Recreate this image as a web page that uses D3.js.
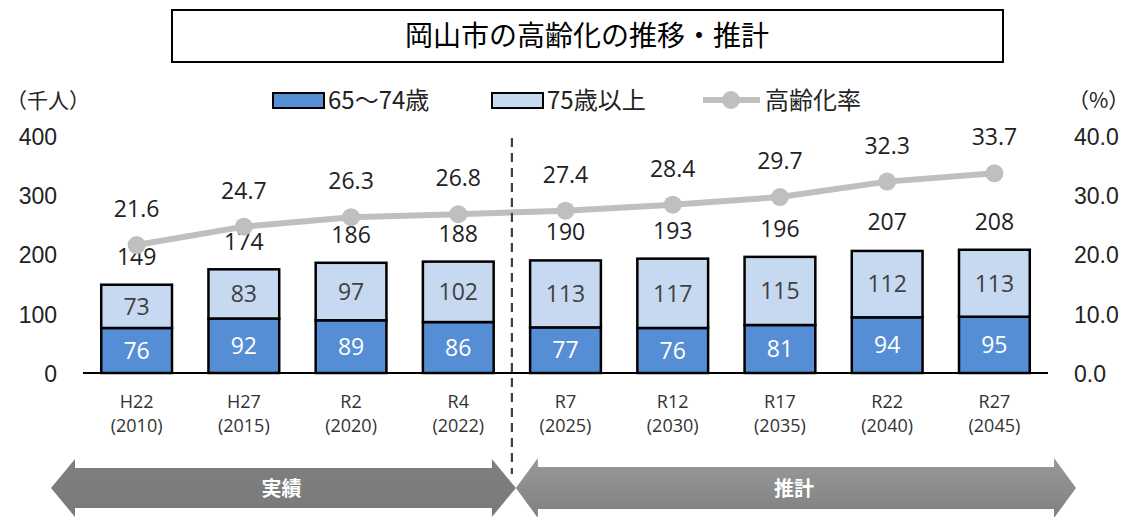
<!DOCTYPE html>
<html>
<head>
<meta charset="utf-8">
<script src="https://cdn.jsdelivr.net/npm/d3@7"></script>
<style>
  body { margin: 0; background: #fff; }
  svg { display: block; font-family: "Open Sans", "Noto Sans CJK JP", sans-serif; }
</style>
</head>
<body>
<script>
// データ
var years = ["H22", "H27", "R2", "R4", "R7", "R12", "R17", "R22", "R27"];
var seireki = ["(2010)", "(2015)", "(2020)", "(2022)", "(2025)", "(2030)", "(2035)", "(2040)", "(2045)"];
var age65to74 = [76, 92, 89, 86, 77, 76, 81, 94, 95];
var age75plus = [73, 83, 97, 102, 113, 117, 115, 112, 113];
var totals = [149, 174, 186, 188, 190, 193, 196, 207, 208];
var rate = [21.6, 24.7, 26.3, 26.8, 27.4, 28.4, 29.7, 32.3, 33.7];
var leftTicks = [0, 100, 200, 300, 400];
var rightTicks = [0, 10, 20, 30, 40];

var W = 1132, H = 517;
var dark = "#558ed5", light = "#c6d9f1", lineCol = "#bfbfbf";

var svg = d3.select("body").append("svg")
	.attr("width", W)
	.attr("height", H);

var x = d3.scaleBand()
	.domain(years)
	.range([83, 1048])
	.paddingInner(0.34)
	.paddingOuter(0.17);

var y = d3.scaleLinear().domain([0, 400]).range([373, 136]);
var y2 = d3.scaleLinear().domain([0, 40]).range([373, 136]);

// タイトル
svg.append("rect")
	.attr("x", 172).attr("y", 10).attr("width", 831).attr("height", 52)
	.attr("fill", "#fff").attr("stroke", "#000").attr("stroke-width", 2);
svg.append("text")
	.attr("x", 587).attr("y", 46)
	.attr("text-anchor", "middle")
	.style("font-family", "'Noto Sans CJK JP'")
	.style("font-size", "28px")
	.attr("textLength", 364)
	.text("岡山市の高齢化の推移・推計");

// 単位
svg.append("text").attr("x", 6).attr("y", 108)
	.style("font-family", "'Noto Sans CJK JP'").style("font-size", "21px").attr("fill", "#222")
	.text("（千人）");
svg.append("text").attr("x", 1068).attr("y", 108)
	.style("font-family", "'Noto Sans CJK JP'").style("font-size", "21px").attr("fill", "#222")
	.text("（%）");

// 左軸
svg.append("g")
	.attr("transform", "translate(57,0)")
	.call(d3.axisLeft(y).tickValues(leftTicks).tickSize(0).tickPadding(0))
	.call(function(g) { g.select(".domain").remove(); })
	.selectAll("text")
	.style("font-size", "23px").attr("fill", "#222").attr("dy", "0.36em");

// 右軸
svg.append("g")
	.attr("transform", "translate(1074,0)")
	.call(d3.axisRight(y2).tickValues(rightTicks).tickSize(0).tickPadding(0)
		.tickFormat(d3.format(".1f")))
	.call(function(g) { g.select(".domain").remove(); })
	.selectAll("text")
	.style("font-size", "23px").attr("fill", "#222").attr("dy", "0.36em");

// 棒グラフ
var bars = svg.append("g");
bars.selectAll(".b1").data(years).enter().append("rect")
	.attr("x", function(d) { return x(d); })
	.attr("y", function(d, i) { return y(age65to74[i]); })
	.attr("width", x.bandwidth())
	.attr("height", function(d, i) { return y(0) - y(age65to74[i]); })
	.attr("fill", dark).attr("stroke", "#000").attr("stroke-width", 2.5);
bars.selectAll(".b2").data(years).enter().append("rect")
	.attr("x", function(d) { return x(d); })
	.attr("y", function(d, i) { return y(age65to74[i] + age75plus[i]); })
	.attr("width", x.bandwidth())
	.attr("height", function(d, i) { return y(age65to74[i]) - y(age65to74[i] + age75plus[i]); })
	.attr("fill", light).attr("stroke", "#000").attr("stroke-width", 2.5);

// 軸線
svg.append("line")
	.attr("x1", 83).attr("x2", 1048).attr("y1", y(0)).attr("y2", y(0))
	.attr("stroke", "#000").attr("stroke-width", 2);

// 棒のラベル
var cx = function(d) { return x(d) + x.bandwidth() / 2; };
bars.selectAll(".l1").data(years).enter().append("text")
	.attr("x", cx)
	.attr("y", function(d, i) { return (y(0) + y(age65to74[i])) / 2; })
	.attr("dy", "0.36em").attr("text-anchor", "middle")
	.style("font-size", "23px").attr("fill", "#fff")
	.text(function(d, i) { return age65to74[i]; });
bars.selectAll(".l2").data(years).enter().append("text")
	.attr("x", cx)
	.attr("y", function(d, i) { return (y(age65to74[i]) + y(age65to74[i] + age75plus[i])) / 2; })
	.attr("dy", "0.36em").attr("text-anchor", "middle")
	.style("font-size", "23px").attr("fill", "#404040")
	.text(function(d, i) { return age75plus[i]; });
bars.selectAll(".lt").data(years).enter().append("text")
	.attr("x", cx)
	.attr("y", function(d, i) { return y(totals[i]) - 20; })
	.attr("text-anchor", "middle")
	.style("font-size", "23px").attr("fill", "#222")
	.text(function(d, i) { return totals[i]; });

// 高齢化率
var line = d3.line()
	.x(function(d, i) { return cx(years[i]); })
	.y(function(d) { return y2(d); });
svg.append("path").datum(rate)
	.attr("d", line).attr("fill", "none")
	.attr("stroke", lineCol).attr("stroke-width", 6);
svg.selectAll(".dot").data(rate).enter().append("circle")
	.attr("cx", function(d, i) { return cx(years[i]); })
	.attr("cy", function(d) { return y2(d); })
	.attr("r", 9).attr("fill", lineCol);
svg.selectAll(".rl").data(rate).enter().append("text")
	.attr("x", function(d, i) { return cx(years[i]); })
	.attr("y", function(d) { return y2(d) - 28; })
	.attr("text-anchor", "middle")
	.style("font-size", "23px").attr("fill", "#222")
	.text(function(d) { return d.toFixed(1); });

// X軸ラベル
var xl = svg.append("g");
xl.selectAll(".x1").data(years).enter().append("text")
	.attr("x", cx).attr("y", 408).attr("text-anchor", "middle")
	.style("font-size", "18px").attr("fill", "#333")
	.text(function(d) { return d; });
xl.selectAll(".x2").data(years).enter().append("text")
	.attr("x", cx).attr("y", 432).attr("text-anchor", "middle")
	.style("font-size", "18px").attr("fill", "#333")
	.text(function(d, i) { return seireki[i]; });

// 区切り線
var sep = x(years[4]) - x.step() * x.paddingInner() / 2;
svg.append("line")
	.attr("x1", sep).attr("x2", sep).attr("y1", 138).attr("y2", 474)
	.attr("stroke", "#404040").attr("stroke-width", 2.2)
	.attr("stroke-dasharray", "9,6");

// 矢印
var defs = svg.append("defs");
var g1 = defs.append("linearGradient").attr("id", "g1").attr("x1", 0).attr("y1", 0).attr("x2", 0).attr("y2", 1);
g1.append("stop").attr("offset", "0").attr("stop-color", "#7f7f7f");
g1.append("stop").attr("offset", "1").attr("stop-color", "#7a7a7a");
var g2 = defs.append("linearGradient").attr("id", "g2").attr("x1", 0).attr("y1", 0).attr("x2", 0).attr("y2", 1);
g2.append("stop").attr("offset", "0").attr("stop-color", "#999999");
g2.append("stop").attr("offset", "1").attr("stop-color", "#808080");

function arrow(x0, x1, cy, head, hh, sh) {
	return "M" + x0 + "," + cy +
		"L" + (x0 + head) + "," + (cy - hh) +
		"L" + (x0 + head) + "," + (cy - sh) +
		"L" + (x1 - head) + "," + (cy - sh) +
		"L" + (x1 - head) + "," + (cy - hh) +
		"L" + x1 + "," + cy +
		"L" + (x1 - head) + "," + (cy + hh) +
		"L" + (x1 - head) + "," + (cy + sh) +
		"L" + (x0 + head) + "," + (cy + sh) +
		"L" + (x0 + head) + "," + (cy + hh) + "Z";
}
svg.append("path").attr("d", arrow(51, sep + 4, 488, 24, 29, 20)).attr("fill", "url(#g1)");
svg.append("path").attr("d", arrow(sep + 4, 1076, 488, 22, 30, 21)).attr("fill", "url(#g2)");
svg.append("text").attr("x", (51 + sep) / 2).attr("y", 496).attr("text-anchor", "middle")
	.style("font-family", "'Noto Sans CJK JP'").style("font-size", "20px").style("font-weight", "bold")
	.attr("fill", "#fff").text("実績");
svg.append("text").attr("x", (sep + 1076) / 2).attr("y", 496).attr("text-anchor", "middle")
	.style("font-family", "'Noto Sans CJK JP'").style("font-size", "20px").style("font-weight", "bold")
	.attr("fill", "#fff").text("推計");

// 凡例
var lg = svg.append("g").style("font-family", "'Noto Sans CJK JP'").style("font-size", "24px").attr("fill", "#222");
lg.append("rect").attr("x", 273).attr("y", 93).attr("width", 51).attr("height", 15)
	.attr("fill", dark).attr("stroke", "#000").attr("stroke-width", 2);
lg.append("text").attr("x", 328).attr("y", 109).text("65〜74歳");
lg.append("rect").attr("x", 492).attr("y", 93).attr("width", 51).attr("height", 15)
	.attr("fill", light).attr("stroke", "#000").attr("stroke-width", 2);
lg.append("text").attr("x", 547).attr("y", 109).text("75歳以上");
lg.append("line").attr("x1", 703).attr("x2", 760).attr("y1", 100).attr("y2", 100)
	.attr("stroke", lineCol).attr("stroke-width", 6);
lg.append("circle").attr("cx", 731).attr("cy", 100).attr("r", 9).attr("fill", lineCol);
lg.append("text").attr("x", 765).attr("y", 109).text("高齢化率");
</script>
</body>
</html>
